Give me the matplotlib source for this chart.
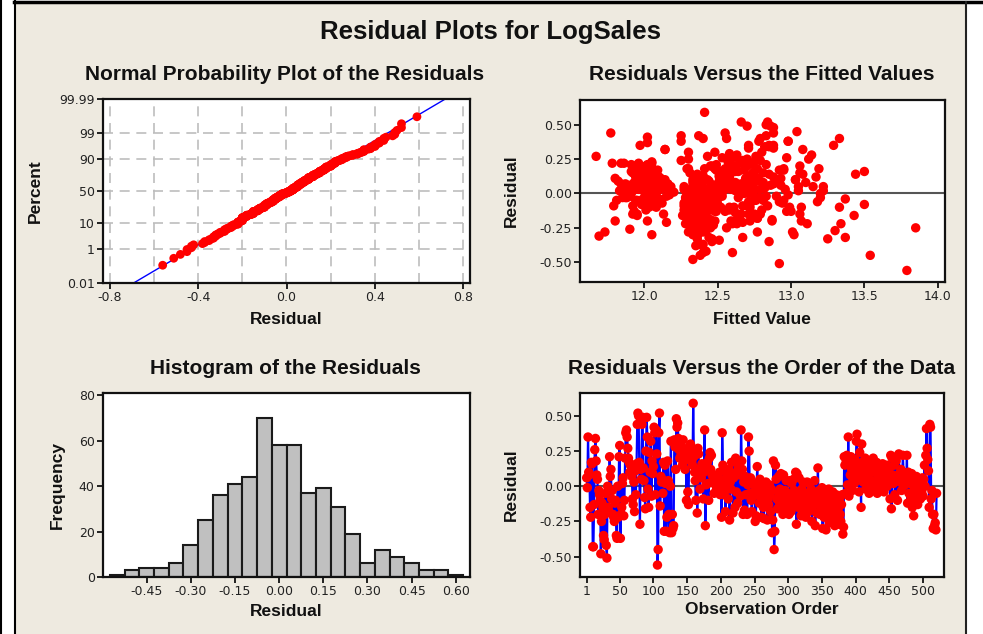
from statistics import NormalDist

import numpy as np
import matplotlib
matplotlib.use("Agg")
import matplotlib.pyplot as plt
from matplotlib.patches import Rectangle
from matplotlib.lines import Line2D

# residuals in observation order (25 per line)
resid = [
    0.06, -0.01, 0.35, 0.10, 0.08, -0.15, -0.22, 0.17, 0.16, -0.43, -0.43, -0.13, 0.26, 0.34, 0.18, 0.08, 0.05, -0.20, -0.03, -0.06, -0.10, -0.48, -0.25, -0.12, -0.15,
    -0.35, -0.38, -0.20, -0.05, -0.42, -0.51, 0.00, -0.15, -0.18, 0.21, 0.07, 0.12, -0.09, -0.03, -0.20, -0.22, -0.25, -0.12, -0.10, -0.35, -0.37, 0.00, -0.22, 0.21, 0.29,
    -0.37, -0.20, -0.15, 0.02, 0.06, -0.21, -0.10, 0.20, 0.38, 0.40, 0.35, 0.27, 0.20, 0.17, 0.10, 0.15, 0.14, 0.07, -0.09, -0.13, 0.03, -0.18, 0.11, -0.06, 0.16,
    0.44, 0.52, 0.50, 0.17, -0.27, 0.12, 0.05, 0.44, 0.49, 0.13, 0.04, -0.08, -0.16, 0.25, 0.49, 0.35, -0.02, -0.15, 0.24, 0.10, 0.32, -0.07, 0.18, 0.09, 0.14,
    0.42, 0.38, -0.06, 0.40, 0.23, -0.56, -0.45, 0.38, 0.52, -0.14, 0.07, 0.03, 0.05, -0.05, 0.17, -0.32, 0.15, 0.02, -0.32, -0.22, 0.18, 0.04, -0.20, -0.33, 0.00,
    0.32, -0.33, -0.20, -0.30, -0.28, 0.33, 0.28, 0.12, 0.48, 0.42, 0.45, 0.34, 0.26, 0.20, 0.30, 0.22, 0.25, 0.15, 0.33, 0.27, 0.18, 0.12, 0.20, -0.10, 0.25,
    -0.04, -0.13, 0.22, 0.28, 0.30, 0.25, 0.18, 0.15, 0.59, 0.21, 0.10, 0.04, -0.10, 0.26, -0.19, 0.27, 0.23, 0.08, -0.02, 0.13, 0.06, 0.16, 0.11, -0.09, 0.10,
    0.40, -0.28, 0.01, 0.14, 0.17, 0.02, -0.10, 0.20, 0.24, 0.12, 0.22, 0.08, 0.03, 0.05, -0.05, 0.07, 0.03, 0.00, -0.03, 0.07, 0.05, -0.02, 0.10, -0.06, 0.02,
    -0.22, 0.38, 0.15, 0.12, -0.06, 0.00, -0.18, 0.06, 0.10, -0.02, -0.09, 0.12, -0.24, 0.03, -0.02, 0.17, 0.09, -0.19, 0.06, 0.18, -0.15, 0.20, -0.04, 0.10, -0.12,
    0.13, 0.17, 0.08, -0.07, 0.40, 0.18, 0.12, -0.20, 0.03, -0.17, 0.07, -0.06, 0.05, -0.20, 0.01, 0.35, 0.25, -0.05, 0.06, -0.10, -0.18, 0.02, -0.07, 0.01, -0.04,
    -0.25, -0.21, 0.00, 0.14, -0.05, 0.03, -0.12, 0.05, -0.08, -0.22, 0.01, -0.03, -0.15, -0.23, -0.06, -0.10, 0.03, -0.01, -0.24, -0.09, -0.13, 0.01, -0.06, -0.18, -0.02,
    -0.33, -0.24, 0.18, -0.45, -0.32, 0.15, 0.05, -0.09, -0.16, -0.04, 0.07, -0.12, -0.02, 0.09, -0.06, -0.10, -0.20, 0.08, -0.15, -0.03, -0.08, 0.04, -0.11, -0.07, -0.13,
    -0.20, 0.04, -0.05, -0.18, 0.02, -0.09, -0.13, 0.05, -0.03, -0.11, 0.10, -0.27, 0.09, -0.07, -0.15, 0.06, -0.04, -0.12, -0.21, -0.02, -0.08, 0.03, -0.16, -0.10, -0.06,
    -0.22, -0.10, 0.03, -0.05, -0.18, 0.02, -0.13, -0.08, -0.02, -0.25, -0.15, -0.06, -0.11, 0.04, -0.28, -0.09, -0.19, -0.04, 0.13, -0.12, -0.03, -0.20, -0.07, -0.15, -0.01,
    -0.30, -0.10, -0.22, -0.05, -0.18, -0.31, -0.13, -0.07, -0.20, -0.02, -0.26, -0.12, -0.08, -0.17, -0.24, -0.04, -0.14, -0.10, -0.28, -0.19, -0.06, -0.22, -0.11, -0.16, -0.27,
    -0.09, -0.20, -0.25, -0.13, -0.06, -0.34, -0.29, 0.21, 0.15, -0.05, 0.18, 0.22, 0.01, 0.35, -0.07, 0.16, 0.08, 0.21, 0.12, -0.03, 0.05, 0.14, 0.02, 0.19, 0.10,
    0.32, 0.37, 0.06, 0.14, -0.04, 0.24, 0.09, -0.15, 0.30, 0.17, 0.03, 0.11, 0.07, 0.20, -0.02, 0.13, 0.05, 0.16, 0.08, -0.05, 0.12, 0.01, 0.10, 0.04, 0.15,
    0.20, -0.03, 0.10, 0.14, 0.02, 0.17, -0.05, 0.08, 0.11, 0.06, 0.13, -0.01, 0.09, 0.04, 0.16, 0.07, -0.04, 0.12, 0.03, 0.08, 0.15, 0.00, 0.10, 0.05, 0.13,
    -0.09, 0.22, -0.16, 0.20, 0.08, 0.02, 0.15, -0.06, 0.04, 0.18, 0.21, -0.10, 0.06, 0.23, 0.09, 0.03, 0.12, -0.03, 0.07, 0.22, 0.10, 0.05, 0.01, 0.08, 0.03,
    0.22, -0.12, 0.10, -0.05, 0.06, 0.02, -0.08, 0.09, -0.15, 0.05, -0.21, -0.02, 0.04, -0.10, 0.07, -0.06, -0.13, 0.01, 0.05, -0.03, -0.09, 0.03, -0.04, 0.06, -0.07,
    0.05, 0.15, 0.00, 0.22, 0.41, 0.27, 0.19, 0.11, -0.15, 0.44, 0.42, -0.09, -0.03, -0.20, -0.30, -0.20, -0.28, -0.26, -0.31, -0.05,
]

# fitted values, same order as resid
fitted = [
    12.93, 12.98, 12.71, 13.03, 13.10, 13.06, 13.34, 12.92, 13.50, 12.40, 12.60, 12.97, 12.97, 12.85, 13.19, 12.62, 13.15, 13.07, 12.78, 12.92, 13.07, 12.33, 13.85, 12.58, 12.75,
    12.46, 12.35, 12.87, 12.95, 12.42, 12.92, 13.20, 12.66, 12.77, 12.74, 12.88, 13.17, 12.70, 13.20, 12.64, 13.11, 12.56, 12.80, 13.33, 12.85, 12.38, 12.68, 12.60, 12.83, 12.58,
    12.40, 12.72, 12.79, 13.05, 12.86, 12.67, 12.99, 13.06, 12.98, 12.79, 12.88, 12.76, 12.70, 12.95, 12.90, 12.81, 13.44, 12.74, 12.84, 13.00, 12.96, 12.77, 12.93, 13.18, 12.64,
    12.55, 12.66, 12.83, 12.68, 13.30, 12.88, 13.22, 12.88, 12.70, 12.72, 12.82, 13.50, 13.43, 13.12, 12.86, 13.29, 12.90, 12.71, 12.79, 13.03, 13.08, 12.94, 12.95, 12.77, 13.08,
    12.37, 12.78, 12.73, 13.33, 12.65, 13.79, 13.54, 12.98, 12.84, 12.62, 12.69, 12.75, 13.05, 12.81, 12.60, 12.67, 13.06, 13.22, 13.37, 12.63, 12.77, 12.66, 12.62, 13.25, 12.71,
    12.14, 12.46, 12.59, 13.02, 13.01, 12.88, 13.14, 12.54, 12.88, 12.83, 13.04, 12.82, 12.60, 12.45, 12.80, 12.66, 12.57, 12.52, 12.71, 12.62, 12.48, 12.58, 12.62, 12.58, 12.76,
    13.37, 12.55, 12.68, 12.63, 12.48, 12.70, 12.55, 12.74, 12.41, 12.49, 12.56, 12.64, 12.61, 12.53, 12.87, 12.43, 12.57, 12.72, 12.53, 12.51, 12.59, 12.62, 12.69, 12.67, 12.78,
    12.56, 12.77, 12.65, 12.85, 12.58, 12.62, 12.72, 12.61, 12.67, 12.76, 12.73, 12.81, 12.79, 12.70, 12.76, 12.66, 12.59, 12.74, 12.64, 12.55, 12.60, 12.83, 12.69, 12.71, 12.54,
    12.45, 12.25, 12.31, 12.38, 12.29, 12.42, 12.35, 12.47, 12.33, 12.40, 12.27, 12.51, 12.36, 12.44, 12.30, 12.49, 12.39, 12.32, 12.53, 12.41, 12.28, 12.46, 12.34, 12.43, 12.37,
    12.40, 12.50, 12.33, 12.45, 12.40, 12.29, 12.36, 12.48, 12.42, 12.31, 12.55, 12.38, 12.27, 12.44, 12.35, 12.85, 12.30, 12.47, 12.39, 12.52, 12.34, 12.41, 12.28, 12.46, 12.37,
    12.43, 12.32, 12.48, 12.36, 12.40, 12.27, 12.45, 12.33, 12.50, 12.38, 12.29, 12.42, 12.35, 12.47, 12.31, 12.39, 12.53, 12.34, 12.44, 12.28, 12.41, 12.37, 12.49, 12.30, 12.46,
    12.36, 12.43, 12.30, 12.38, 12.44, 12.55, 12.33, 12.40, 12.26, 12.47, 12.35, 12.42, 12.29, 12.51, 12.38, 12.32, 12.45, 12.36, 12.41, 12.28, 12.48, 12.34, 12.39, 12.44, 12.31,
    12.39, 12.46, 12.32, 12.42, 12.28, 12.37, 12.49, 12.34, 12.41, 12.30, 12.52, 12.38, 12.44, 12.27, 12.36, 12.47, 12.33, 12.40, 12.29, 12.43, 12.35, 12.50, 12.31, 12.45, 12.38,
    12.34, 12.41, 12.48, 12.29, 12.37, 12.44, 12.32, 12.39, 12.51, 12.35, 12.42, 12.28, 12.46, 12.33, 12.40, 12.36, 12.30, 12.47, 12.58, 12.38, 12.43, 12.31, 12.45, 12.35, 12.40,
    12.33, 12.44, 12.37, 12.29, 12.42, 12.36, 12.48, 12.31, 12.40, 12.46, 12.34, 12.27, 12.43, 12.38, 12.32, 12.50, 12.35, 12.41, 12.30, 12.45, 12.39, 12.28, 12.47, 12.36, 12.42,
    12.38, 12.30, 12.45, 12.35, 12.42, 12.51, 12.37, 12.02, 11.95, 12.08, 11.98, 12.05, 11.90, 11.97, 12.12, 12.00, 11.93, 12.03, 12.07, 11.88, 12.10, 11.99, 12.04, 11.96, 12.01,
    12.14, 12.02, 11.94, 12.06, 11.99, 12.25, 12.09, 11.92, 12.30, 11.97, 12.04, 12.11, 11.87, 12.01, 12.15, 11.96, 12.07, 11.91, 12.13, 12.03, 11.98, 12.18, 12.05, 11.89, 12.00,
    11.93, 12.06, 11.98, 12.02, 11.86, 12.09, 11.95, 12.12, 12.00, 11.90, 12.04, 12.17, 11.97, 12.08, 11.99, 11.84, 12.03, 12.10, 11.94, 12.06, 12.01, 11.91, 12.14, 11.96, 12.05,
    11.92, 11.84, 11.95, 12.03, 12.10, 11.88, 11.97, 12.06, 12.13, 12.00, 11.91, 12.08, 11.99, 12.05, 11.82, 12.11, 11.94, 12.02, 12.16, 11.96, 12.07, 11.89, 12.20, 12.04, 11.98,
    11.86, 12.01, 12.12, 11.94, 12.05, 11.83, 11.98, 12.09, 11.95, 12.18, 12.15, 11.90, 12.07, 12.03, 11.97, 12.11, 11.93, 12.00, 12.14, 11.87, 12.06, 11.96, 12.10, 11.92, 12.04,
    11.99, 11.92, 12.08, 11.78, 12.02, 11.67, 12.05, 11.80, 12.13, 11.77, 12.25, 11.79, 11.85, 12.02, 12.05, 11.80, 11.73, 11.90, 11.69, 11.81,
]

# histogram bins (centres) and counts
bin_centers = [-0.55, -0.50, -0.45, -0.40, -0.35, -0.30, -0.25, -0.20, -0.15, -0.10, -0.05, 0.00,
               0.05, 0.10, 0.15, 0.20, 0.25, 0.30, 0.35, 0.40, 0.45, 0.50, 0.55, 0.60]
bin_counts = [1, 3, 4, 4, 6, 14, 25, 36, 41, 44, 70, 58, 58, 37, 39, 31, 19, 6, 12, 9, 6, 3, 3, 1]

pct_ticks = [0.01, 1, 10, 50, 90, 99, 99.99]
pct_labels = ["0.01", "1", "10", "50", "90", "99", "99.99"]

W, H = 983, 634
BG = "#eeeae0"
TICK_FONT = "DejaVu Sans"
BOLD_FONT = "Liberation Sans"

plt.rcParams["font.family"] = TICK_FONT
fig = plt.figure(figsize=(W / 100, H / 100), dpi=100, facecolor="white")

# window frame (drawn under the axes)
fig.patches.append(Rectangle((15 / W, 0), (966 - 15) / W, 1 - 2 / H, transform=fig.transFigure,
                             facecolor=BG, edgecolor="none", zorder=-5))
fig.add_artist(Line2D([0.5 / W, 0.5 / W], [0, 1], color="black", lw=1.5))
fig.add_artist(Line2D([14.5 / W, 14.5 / W], [0, 1], color="black", lw=1.5))
fig.add_artist(Line2D([14 / W, 1], [1 - 1.5 / H, 1 - 1.5 / H], color="black", lw=2.5))
fig.add_artist(Line2D([966 / W, 966 / W], [0, 1 - 2 / H], color="#222222", lw=1.5))


def px_axes(l, t, r, b):
    ax = fig.add_axes([l / W, 1 - b / H, (r - l) / W, (b - t) / H])
    ax.set_facecolor("white")
    for s in ax.spines.values():
        s.set_linewidth(1.6)
        s.set_color("#111111")
    ax.tick_params(direction="out", length=4, width=1.3, color="#111111",
                   labelsize=9, labelcolor="#222222", pad=2)
    return ax


def ftext(x, y, s, size=12.5, rot=0):
    fig.text(x / W, 1 - y / H, s, ha="center", va="center", rotation=rot,
             fontsize=size, fontweight="bold", family=BOLD_FONT, color="#111111")


ftext(490, 32, "Residual Plots for LogSales", size=18.5)

r = np.array(resid)
f = np.array(fitted)
n = len(r)
obs = np.arange(1, n + 1)
nd = NormalDist()

# --- normal probability plot
ax1 = px_axes(103, 99, 470, 283)
rs = np.sort(r)
pp = np.array([nd.inv_cdf((i - 0.3) / (n + 0.4)) for i in range(1, n + 1)])
zlim = nd.inv_cdf(0.0001)
mu, sd = r.mean(), r.std(ddof=1)
for gx in np.arange(-0.8, 0.81, 0.2):
    ax1.axvline(gx, color="#bdbdbd", lw=1.2, dashes=(6, 4), zorder=0)
for p in pct_ticks[1:-1]:
    ax1.axhline(nd.inv_cdf(p / 100), color="#bdbdbd", lw=1.2, dashes=(6, 4), zorder=0)
zz = np.array([zlim, -zlim])
ax1.plot(mu + sd * zz, zz, color="blue", lw=1.0, zorder=2)
ax1.scatter(rs, pp, s=40, color="red", edgecolors="none", zorder=3)
ax1.set_xlim(-0.83, 0.83)
ax1.set_ylim(zlim, -zlim)
ax1.set_xticks([-0.8, -0.4, 0.0, 0.4, 0.8])
ax1.set_xticklabels(["-0.8", "-0.4", "0.0", "0.4", "0.8"])
ax1.set_yticks([nd.inv_cdf(p / 100) for p in pct_ticks])
ax1.set_yticklabels(pct_labels)
ftext(285, 74, "Normal Probability Plot of the Residuals", size=15)
ftext(286, 320, "Residual")
ftext(35, 191, "Percent", rot=90)

# --- residuals versus fitted
ax2 = px_axes(580, 100, 945, 282)
ax2.axhline(0, color="#555555", lw=1.5, zorder=1)
ax2.scatter(f, r, s=46, color="red", edgecolors="none", zorder=3)
ax2.set_xlim(11.56, 14.05)
ax2.set_ylim(-0.644, 0.68)
ax2.set_xticks([12.0, 12.5, 13.0, 13.5, 14.0])
ax2.set_xticklabels(["12.0", "12.5", "13.0", "13.5", "14.0"])
ax2.set_yticks([-0.50, -0.25, 0.0, 0.25, 0.50])
ax2.set_yticklabels(["-0.50", "-0.25", "0.00", "0.25", "0.50"])
ftext(762, 74, "Residuals Versus the Fitted Values", size=15)
ftext(762, 320, "Fitted Value")
ftext(511, 191, "Residual", rot=90)

# --- histogram
ax3 = px_axes(103, 393, 470, 577)
ax3.bar(bin_centers, bin_counts, width=0.05, color="#c0c0c0", edgecolor="#1a1a1a", linewidth=1.5)
ax3.set_xlim(-0.598, 0.648)
ax3.set_ylim(0, 81)
ax3.set_xticks([-0.45, -0.30, -0.15, 0.0, 0.15, 0.30, 0.45, 0.60])
ax3.set_xticklabels(["-0.45", "-0.30", "-0.15", "0.00", "0.15", "0.30", "0.45", "0.60"])
ax3.set_yticks([0, 20, 40, 60, 80])
ftext(285, 368, "Histogram of the Residuals", size=15)
ftext(286, 611, "Residual")
ftext(57, 485, "Frequency", rot=90)

# --- residuals versus order
ax4 = px_axes(580, 393, 944, 577)
ax4.axhline(0, color="#555555", lw=1.5, zorder=1)
ax4.plot(obs, r, color="blue", lw=1.6, zorder=2)
ax4.scatter(obs, r, s=46, color="red", edgecolors="none", zorder=3)
ax4.set_xlim(-8.9, 531)
ax4.set_ylim(-0.645, 0.663)
ax4.set_xticks([1, 50, 100, 150, 200, 250, 300, 350, 400, 450, 500])
ax4.set_yticks([-0.50, -0.25, 0.0, 0.25, 0.50])
ax4.set_yticklabels(["-0.50", "-0.25", "0.00", "0.25", "0.50"])
ftext(762, 368, "Residuals Versus the Order of the Data", size=15)
ftext(762, 610, "Observation Order")
ftext(511, 485, "Residual", rot=90)

fig.savefig("out.png", dpi=100, facecolor=fig.get_facecolor())
plt.close("all")
